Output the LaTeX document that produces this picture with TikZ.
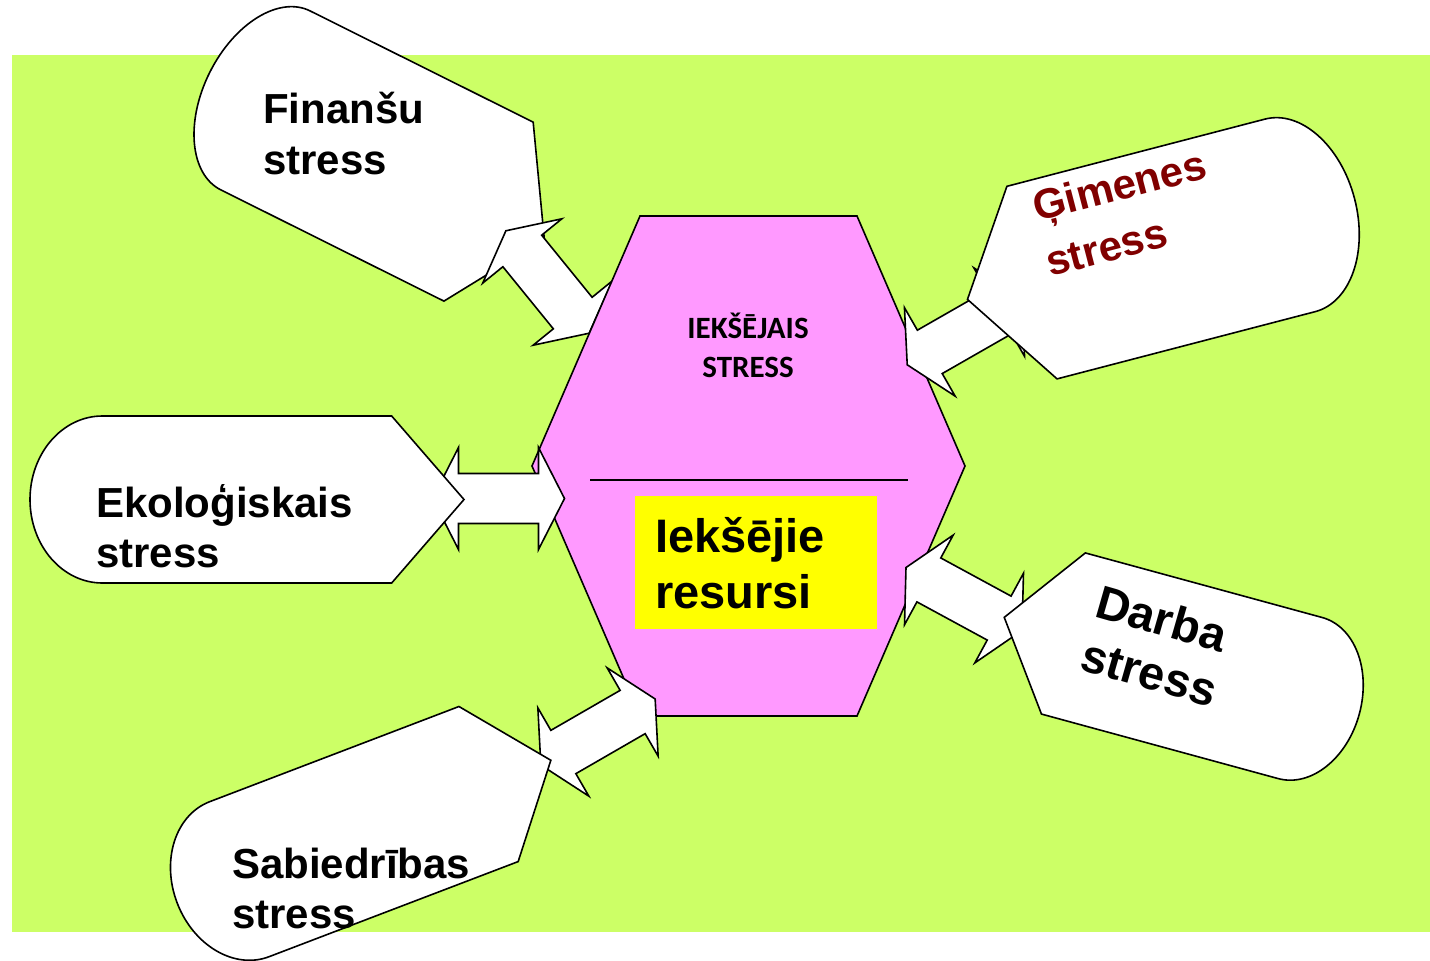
\documentclass[tikz,border=0pt]{standalone}
\usepackage{fontspec}
\setmainfont{Liberation Sans}
\newfontfamily\calibfont{Carlito}
\definecolor{bggreen}{RGB}{204,255,102}
\definecolor{hexpink}{RGB}{255,153,255}
\definecolor{boxyellow}{RGB}{255,255,0}
\definecolor{famred}{RGB}{128,0,0}

% Flowchart "display" shape: point on the local +x side, round end on -x side.
% #1,#2 centre, #3 rotation, #4 width, #5 height
\newcommand\DispShape[5]{%
  \begin{scope}[shift={(#1,#2)},rotate=#3]
    \pgfmathsetmacro\hw{#4/2}\pgfmathsetmacro\hh{#5/2}\pgfmathsetmacro\ss{#4/6}%
    \pgfmathsetmacro\ks{0.5523*\ss}\pgfmathsetmacro\kh{0.5523*\hh}%
    \draw[shapeline,fill=white] (\hw,0) -- (\hw-\ss,\hh) -- (-\hw+\ss,\hh)
      .. controls (-\hw+\ss-\ks,\hh) and (-\hw,\kh) .. (-\hw,0)
      .. controls (-\hw,-\kh) and (-\hw+\ss-\ks,-\hh) .. (-\hw+\ss,-\hh)
      -- (\hw-\ss,-\hh) -- cycle;
  \end{scope}}

% Double-headed block arrow centred at (#1,#2), rotated by #3
\newcommand\DblArrow[3]{%
  \begin{scope}[shift={(#1,#2)},rotate=#3]
    \draw[shapeline,fill=white] (66,0) -- (40,51) -- (40,25) -- (-40,25) -- (-40,51)
      -- (-66,0) -- (-40,-51) -- (-40,-25) -- (40,-25) -- (40,-51) -- cycle;
  \end{scope}}

\begin{document}
\begin{tikzpicture}[x=1pt,y=-1pt,
  shapeline/.style={draw=black,line width=1.6pt,line join=miter},
  bigtxt/.style={font=\bfseries\fontsize{42}{52}\selectfont,inner sep=0pt,anchor=base west},
  worktxt/.style={font=\bfseries\fontsize{47}{55}\selectfont,inner sep=0pt,anchor=base west},
  restxt/.style={font=\bfseries\fontsize{47}{56}\selectfont,inner sep=0pt,anchor=base west},
  captxt/.style={font=\calibfont\bfseries\fontsize{31}{38}\selectfont,inner sep=0pt,anchor=base}]
\useasboundingbox (0,0) rectangle (1430,961);
\fill[white] (0,0) rectangle (1430,961);
\fill[bggreen] (12,55) rectangle (1430,932);

% financial stress: shape, arrow, then the hexagon over the arrow tip
\DispShape{377}{156}{-26.5}{374}{200}
\DblArrow{547.5}{282}{-50.9}

% central hexagon
\draw[shapeline,fill=hexpink] (640,216) -- (857,216) -- (965,466) -- (857,716)
  -- (640,716) -- (532,466) -- cycle;
\draw[line width=1.3pt] (590,480) -- (908,480);
\fill[boxyellow] (635,496) rectangle (877,629);

% ecological stress
\DblArrow{498.5}{498.5}{0}
\DispShape{247}{499.5}{0}{434}{167}

% family stress
\DblArrow{964.5}{332}{29.8}
\DispShape{1161}{249}{-165.4}{400}{199}

% work stress
\DblArrow{964}{599}{-28.5}
\DispShape{1181.75}{665.75}{-195.25}{368}{167}

% society stress
\DblArrow{598}{732}{30}
\DispShape{364}{831.6}{20.9}{400}{166}

% texts
\node[bigtxt] (finA) at (263,123) {Finanšu};
\node[bigtxt] (finB) at (263,174) {stress};
\node[bigtxt] (ekoA) at (96,517) {Ekoloģiskais};
\node[bigtxt] (ekoB) at (96,567) {stress};
\node[bigtxt] (sabA) at (232,878) {Sabiedrības};
\node[bigtxt] (sabB) at (232,928) {stress};
\node[bigtxt,text=famred,rotate=14.6] (gimA) at (1037,222) {Ģimenes};
\node[bigtxt,text=famred,rotate=14.6] (gimB) at (1050,277) {stress};
\node[worktxt,rotate=-16] (darA) at (1093,616) {Darba};
\node[worktxt,rotate=-16] (darB) at (1078,669) {stress};
\node[captxt] (inA) at (748,338.5) {IEKŠĒJAIS};
\node[captxt] (inB) at (748,377) {STRESS};
\node[restxt] (resA) at (655,552) {Iekšējie};
\node[restxt] (resB) at (655,608) {resursi};
\end{tikzpicture}
\end{document}
